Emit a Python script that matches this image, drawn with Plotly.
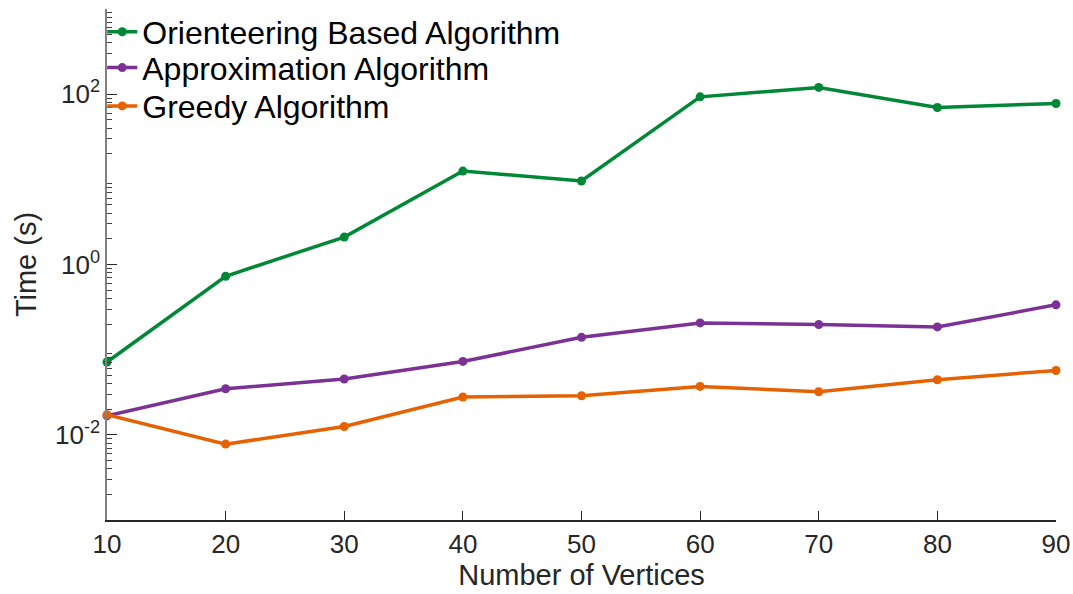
import plotly.graph_objects as go

vertices = [10, 20, 30, 40, 50, 60, 70, 80, 90]
orienteering = [0.0717, 0.728, 2.10, 12.5, 9.55, 93, 120, 69.8, 77.8]
approximation = [0.0167, 0.0348, 0.0452, 0.0728, 0.1395, 0.206, 0.197, 0.185, 0.336]
greedy = [0.0172, 0.00778, 0.01253, 0.0278, 0.0288, 0.037, 0.0321, 0.0444, 0.057]

series_names = ["Orienteering Based Algorithm", "Approximation Algorithm", "Greedy Algorithm"]
colors = ["#008837", "#7b3294", "#e66101"]
legend_ids = ["legend", "legend2", "legend3"]
legend_y = [0.955, 0.885, 0.810]

y_major = [0.01, 1, 100]
y_major_text = ["10<sup>-2</sup>", "10<sup>0</sup>", "10<sup>2</sup>"]
y_minor = [k * 10 ** e for e in range(-3, 3) for k in range(2, 10)]

fig = go.Figure()
for name, vals, c, lg in zip(series_names, [orienteering, approximation, greedy], colors, legend_ids):
    fig.add_trace(go.Scatter(
        x=vertices, y=vals, name=name, mode="lines+markers",
        line=dict(color=c, width=3.5), marker=dict(color=c, size=9),
        cliponaxis=False, legend=lg,
    ))

font_family = "Liberation Sans, Arial, sans-serif"
legend_common = dict(
    x=-0.005, xanchor="left", yanchor="middle",
    bgcolor="rgba(0,0,0,0)", font=dict(size=32, color="black"),
    tracegroupgap=0, itemwidth=30,
)
fig.update_layout(
    width=1073, height=594,
    margin=dict(l=107, r=17, t=9, b=74, autoexpand=False),
    paper_bgcolor="white", plot_bgcolor="white",
    font=dict(family=font_family, color="#262626"),
    showlegend=True,
    legend=dict(y=legend_y[0], **legend_common),
    legend2=dict(y=legend_y[1], **legend_common),
    legend3=dict(y=legend_y[2], **legend_common),
    xaxis=dict(
        range=[10, 90], tickvals=vertices, ticks="inside", ticklen=9,
        tickcolor="#262626", showline=True, linecolor="#262626", linewidth=1.5,
        showgrid=False, zeroline=False, tickfont=dict(size=26, color="#262626"),
        automargin=False,
        title=dict(text="Number of Vertices", font=dict(size=29, color="#262626"), standoff=4),
    ),
    yaxis=dict(
        type="log", range=[-3, 3], tickvals=y_major, ticktext=y_major_text,
        ticks="inside", ticklen=10, tickcolor="#262626",
        showline=True, linecolor="#808080", linewidth=1.5,
        showgrid=False, zeroline=False, tickfont=dict(size=26, color="#262626"),
        automargin=False,
        minor=dict(tickvals=y_minor, ticks="inside", ticklen=5, tickcolor="#404040", showgrid=False),
        title=dict(text="Time (s)", font=dict(size=29, color="#262626"), standoff=10),
    ),
)

fig.write_html(
    "out.html",
    config={"displayModeBar": False},
    post_script="document.body.style.margin='0';document.body.style.overflow='hidden';",
)
